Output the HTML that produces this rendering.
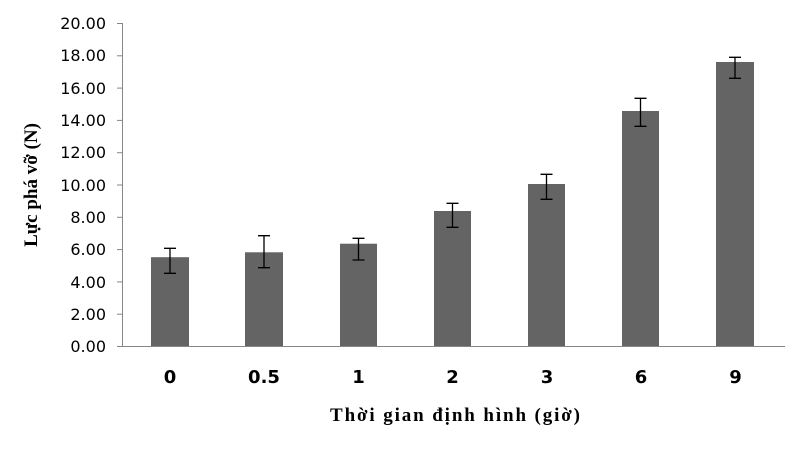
<!DOCTYPE html>
<html><head><meta charset="utf-8"><style>body{margin:0;background:#fff}</style></head><body>
<svg width="805" height="445" xmlns="http://www.w3.org/2000/svg">
<g stroke="#868686" stroke-width="1">
<line x1="122.5" y1="23" x2="122.5" y2="346"/>
<line x1="117" y1="346.5" x2="785" y2="346.5"/>
<line x1="117" y1="23.5" x2="122" y2="23.5"/><line x1="117" y1="55.8" x2="122" y2="55.8"/><line x1="117" y1="88.1" x2="122" y2="88.1"/><line x1="117" y1="120.4" x2="122" y2="120.4"/><line x1="117" y1="152.7" x2="122" y2="152.7"/><line x1="117" y1="185" x2="122" y2="185"/><line x1="117" y1="217.3" x2="122" y2="217.3"/><line x1="117" y1="249.6" x2="122" y2="249.6"/><line x1="117" y1="281.9" x2="122" y2="281.9"/><line x1="117" y1="314.2" x2="122" y2="314.2"/>
</g>
<g font-family="DejaVu Sans, Liberation Sans, sans-serif" font-size="16" fill="#000" text-anchor="end">
<text x="106" y="29">20.00</text><text x="106" y="61">18.00</text><text x="106" y="94">16.00</text><text x="106" y="126">14.00</text><text x="106" y="158">12.00</text><text x="106" y="191">10.00</text><text x="106" y="223">8.00</text><text x="106" y="255">6.00</text><text x="106" y="288">4.00</text><text x="106" y="320">2.00</text><text x="106" y="352">0.00</text>
</g>
<g fill="#646464">
<rect x="151" y="257.2" width="38" height="88.8"/>
<rect x="245" y="252.3" width="38" height="93.7"/>
<rect x="340" y="243.7" width="37" height="102.3"/>
<rect x="434" y="211" width="37" height="135"/>
<rect x="528" y="184" width="37" height="162"/>
<rect x="622" y="111" width="37" height="235"/>
<rect x="716" y="62" width="38" height="284"/>
</g>
<g stroke="#000" stroke-width="1.3">
<path d="M170 248.3V273.3M164 248.3H176M164 273.3H176"/>
<path d="M264 235.7V267.7M258 235.7H270M258 267.7H270"/>
<path d="M358.5 238.3V260M352.5 238.3H364.5M352.5 260H364.5"/>
<path d="M452.5 203.3V227.3M446.5 203.3H458.5M446.5 227.3H458.5"/>
<path d="M546.5 174.3V199.3M540.5 174.3H552.5M540.5 199.3H552.5"/>
<path d="M640.5 98.3V126.3M634.5 98.3H646.5M634.5 126.3H646.5"/>
<path d="M735 57.3V78.3M729 57.3H741M729 78.3H741"/>
</g>
<g font-family="DejaVu Sans, Liberation Sans, sans-serif" font-size="18" font-weight="bold" text-anchor="middle">
<text x="170" y="383">0</text><text x="264" y="383">0.5</text><text x="358.5" y="383">1</text><text x="452.5" y="383">2</text><text x="547" y="383">3</text><text x="641" y="383">6</text><text x="735.5" y="383">9</text>
</g>
<text x="455" y="421" font-family="Liberation Serif, serif" font-size="19" font-weight="bold" text-anchor="middle" textLength="250" lengthAdjust="spacing">Thời gian định hình  (giờ)</text>
<text transform="translate(37,185) rotate(-90)" font-family="Liberation Serif, serif" font-size="19" font-weight="bold" text-anchor="middle">Lực phá vỡ (N)</text>
</svg>
</body></html>
